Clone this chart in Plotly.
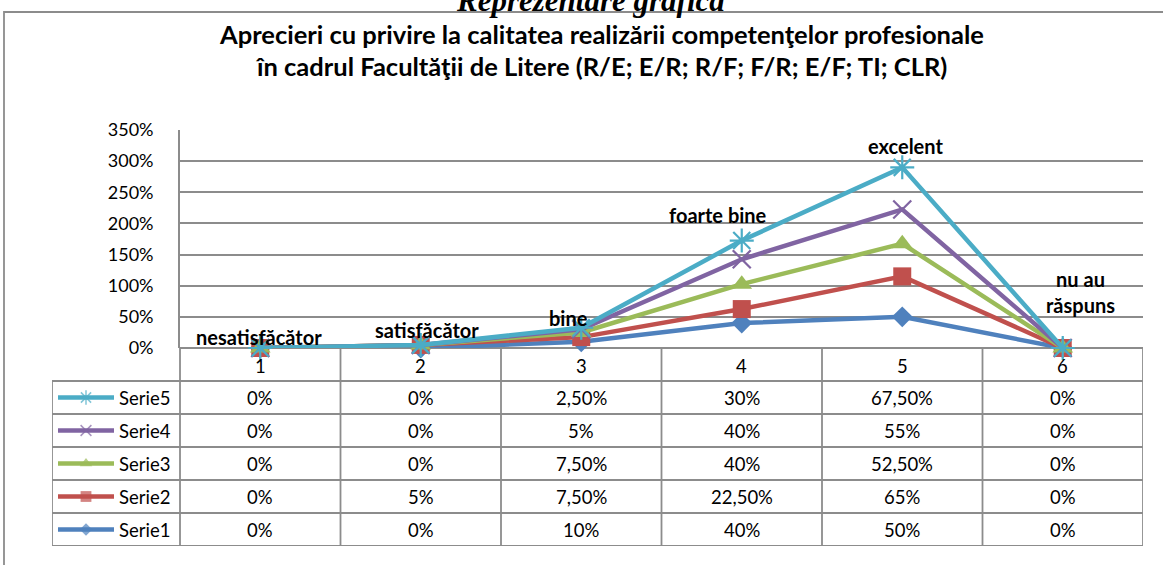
import plotly.graph_objects as go

# ---------------- data ----------------
categories = ["1", "2", "3", "4", "5", "6"]
point_labels = ["nesatisfăcător", "satisfăcător", "bine", "foarte bine", "excelent", "nu au<br>răspuns"]
series_names = ["Serie1", "Serie2", "Serie3", "Serie4", "Serie5"]
serie1 = [0, 0, 10, 40, 50, 0]
serie2 = [0, 5, 7.5, 22.5, 65, 0]
serie3 = [0, 0, 7.5, 40, 52.5, 0]
serie4 = [0, 0, 5, 40, 55, 0]
serie5 = [0, 0, 2.5, 30, 67.5, 0]
y_ticks = [0, 50, 100, 150, 200, 250, 300, 350]

series_values = [serie1, serie2, serie3, serie4, serie5]
colors = ["#4F81BD", "#C0504D", "#9BBB59", "#8064A2", "#4BACC6"]
symbols = ["diamond", "square", "triangle-up", "x-thin-open", "asterisk-open"]
msizes = [16, 18, 18, 18, 20]

W, H = 1163, 565
FONT = "Lato"
GRID = "#8C8C8C"

def fx(px):
    return px / W

def fy(py):
    return 1 - py / H

# plot geometry (pixels)
PL, PR, PT, PB = 180, 1143, 130, 348
TL, TB = 52, 546
colw = (PR - PL) / 6.0
x2_left = 0.5 - (PL - TL) / colw

fig = go.Figure()

# stacked lines
cum = [0] * 6
stacked = []
for vals in series_values:
    cum = [c + v for c, v in zip(cum, vals)]
    stacked.append([c / 100 for c in cum])

xs = list(range(1, 7))
for i, name in enumerate(series_names):
    fig.add_trace(go.Scatter(
        x=xs, y=stacked[i], mode="lines+markers", name=name,
        line=dict(color=colors[i], width=4.5),
        marker=dict(symbol=symbols[i], size=msizes[i], color=colors[i],
                    line=dict(color=colors[i], width=2.2 if "open" in symbols[i] else 0)),
        cliponaxis=False, showlegend=False, xaxis="x", yaxis="y"))

# legend keys inside the table (rows: Serie1 at 0 ... Serie5 at 4)
k0 = 0.5 + (58 - PL) / colw
k1 = 0.5 + (114 - PL) / colw
for i, name in enumerate(series_names):
    km = (k0 + k1) / 2
    fig.add_trace(go.Scatter(
        x=[k0, km, k1], y=[i, i, i], mode="lines+markers",
        line=dict(color=colors[i], width=4.5),
        marker=dict(symbol=symbols[i], size=[0, msizes[i] * 0.6, 0], color=colors[i],
                    line=dict(color=colors[i], width=1.5 if "open" in symbols[i] else 0)),
        cliponaxis=False, showlegend=False, xaxis="x2", yaxis="y2", hoverinfo="skip"))

annotations = []
shapes = []

# data labels on the top series
offsets = [(-1, 11), (6, 15), (-13, 10), (-24, 26), (3, 21), (18, 56)]
for j, lab in enumerate(point_labels):
    annotations.append(dict(
        x=xs[j], y=stacked[-1][j], xref="x", yref="y", text="<b>%s</b>" % lab,
        showarrow=False, xshift=offsets[j][0], yshift=offsets[j][1],
        font=dict(family=FONT, size=20, color="#000"), align="center"))

# table text
def fmt(v):
    if float(v).is_integer():
        return "%d%%" % int(v)
    return ("%.2f%%" % v).replace(".", ",")

TF = dict(family=FONT, size=18.5, color="#000")
for i, name in enumerate(series_names):
    annotations.append(dict(x=0.5 + (117 - PL) / colw, y=i, xref="x2", yref="y2",
                            text=name, showarrow=False, xanchor="left", font=TF))
    for j in range(6):
        annotations.append(dict(x=j + 1, y=i, xref="x2", yref="y2",
                                text=fmt(series_values[i][j]), showarrow=False, font=TF))
for j, c in enumerate(categories):
    annotations.append(dict(x=j + 1, y=5, xref="x2", yref="y2", text=c,
                            showarrow=False, yshift=-1, font=TF))

# table lines
for r in range(5):
    yy = r - 0.5
    shapes.append(dict(type="line", xref="x2", yref="y2", x0=x2_left, x1=6.5, y0=yy, y1=yy,
                       line=dict(color=GRID, width=1.8)))
shapes.append(dict(type="line", xref="x2", yref="y2", x0=x2_left, x1=6.5, y0=4.5, y1=4.5,
                   line=dict(color=GRID, width=1.8)))
shapes.append(dict(type="line", xref="x2", yref="y2", x0=x2_left, x1=x2_left, y0=-0.5, y1=4.5,
                   line=dict(color=GRID, width=1.8)))
for c in range(7):
    shapes.append(dict(type="line", xref="x2", yref="y2", x0=c + 0.5, x1=c + 0.5, y0=-0.5, y1=5.5,
                       line=dict(color=GRID, width=1.8)))

# outer frame
shapes.append(dict(type="rect", xref="paper", yref="paper", x0=fx(4), x1=1.02, y0=fy(12), y1=-0.02,
                   line=dict(color=GRID, width=1.8), layer="below"))

# titles
annotations.append(dict(x=fx(591), y=fy(1), xref="paper", yref="paper",
                        text="<b><i>Reprezentare grafică</i></b>", showarrow=False,
                        yanchor="middle", font=dict(family="Liberation Serif", size=31, color="#000")))
annotations.append(dict(x=fx(601), y=fy(34), xref="paper", yref="paper",
                        text="<b>Aprecieri cu privire la calitatea realizării competenţelor profesionale</b>",
                        showarrow=False, yanchor="middle", font=dict(family=FONT, size=25.5, color="#000")))
annotations.append(dict(x=fx(601), y=fy(66), xref="paper", yref="paper",
                        text="<b>în cadrul Facultăţii de Litere (R/E; E/R; R/F; F/R; E/F; TI; CLR)</b>",
                        showarrow=False, yanchor="middle", font=dict(family=FONT, size=25.5, color="#000")))

fig.update_layout(
    width=W, height=H, autosize=False, margin=dict(l=0, r=0, t=0, b=0, pad=0),
    paper_bgcolor="white", plot_bgcolor="white",
    showlegend=False,
    xaxis=dict(domain=[fx(PL), fx(PR)], range=[0.5, 6.5], showgrid=False, zeroline=False,
               showticklabels=False, showline=False, fixedrange=True, automargin=False),
    yaxis=dict(domain=[fy(PB), fy(PT)], range=[0, 3.5], tickvals=[t / 100 for t in y_ticks],
               ticktext=["%d%%" % t for t in y_ticks], showgrid=True, gridcolor=GRID, gridwidth=1.8,
               zeroline=True, zerolinecolor=GRID, zerolinewidth=1.8,
               showline=True, linecolor=GRID, linewidth=1.8, ticks="", ticklabelstandoff=21,
               tickfont=dict(family=FONT, size=18, color="#000"), fixedrange=True, automargin=False),
    xaxis2=dict(domain=[fx(TL), fx(PR)], range=[x2_left, 6.5], anchor="y2", visible=False,
                fixedrange=True, automargin=False),
    yaxis2=dict(domain=[fy(TB), fy(PB)], range=[-0.5, 5.5], anchor="x2", visible=False,
                fixedrange=True, automargin=False),
    annotations=annotations, shapes=shapes,
)

fig.write_html("out.html", config={"displayModeBar": False},
               post_script="document.body.style.margin='0px';")
